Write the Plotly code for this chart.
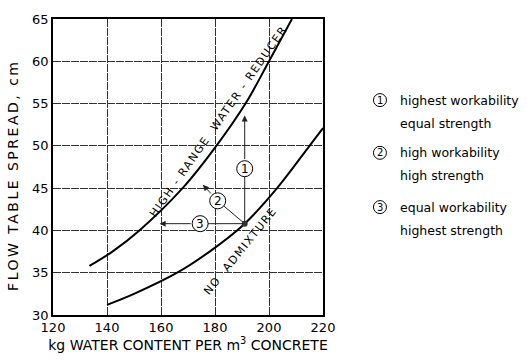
import plotly.graph_objects as go

# ---- data ----
hrwr_x = [133.5, 142, 152, 168, 180.5, 191.3, 200, 208.5]
hrwr_y = [35.8, 37.5, 40, 45, 50, 55, 60, 65]
noadm_x = [140, 150, 166, 178, 191, 203, 215, 220]
noadm_y = [31.2, 32.5, 35, 37.5, 40.8, 45, 50, 52.1]

origin = (191, 40.8)
circle_labels = ["1", "2", "3"]
circle_x = [191, 181, 174.5]
circle_y = [47.3, 43.5, 40.8]
head_x = [191, 175.5, 159.5]
head_y = [53.6, 45.4, 40.8]

legend_lines = [("highest workability", "equal strength"),
                ("high workability", "high strength"),
                ("equal workability", "highest strength")]

x_ticks = [120, 140, 160, 180, 200, 220]
y_ticks = [30, 35, 40, 45, 50, 55, 60, 65]

FONT = "DejaVu Sans, Liberation Sans, Arial"

fig = go.Figure()
for xs, ys in ((hrwr_x, hrwr_y), (noadm_x, noadm_y)):
    fig.add_trace(go.Scatter(x=xs, y=ys, mode="lines",
                             line=dict(color="black", width=2, shape="spline", smoothing=1),
                             showlegend=False, hoverinfo="skip"))
fig.add_trace(go.Scatter(x=[origin[0]], y=[origin[1]], mode="markers",
                         marker=dict(color="#333", size=6),
                         showlegend=False, hoverinfo="skip"))

annotations = []
shapes = []
R = 8
for lab, cx, cy, hx, hy in zip(circle_labels, circle_x, circle_y, head_x, head_y):
    annotations.append(dict(x=cx, y=cy, ax=origin[0], ay=origin[1], xref="x", yref="y",
                            axref="x", ayref="y", showarrow=True, arrowside="none",
                            arrowwidth=1, arrowcolor="#222", standoff=R, text=""))
    annotations.append(dict(x=hx, y=hy, ax=cx, ay=cy, xref="x", yref="y",
                            axref="x", ayref="y", showarrow=True, arrowhead=2,
                            arrowsize=1.2, arrowwidth=1, arrowcolor="#222",
                            startstandoff=R, text=""))
    shapes.append(dict(type="circle", xref="x", yref="y", xsizemode="pixel", ysizemode="pixel",
                       xanchor=cx, yanchor=cy, x0=-R, x1=R, y0=-R, y1=R,
                       fillcolor="white", line=dict(color="black", width=1)))
    annotations.append(dict(x=cx, y=cy, xref="x", yref="y", text=lab, showarrow=False,
                            xanchor="center", yanchor="middle",
                            font=dict(family=FONT, size=12, color="black")))

# curve labels
annotations.append(dict(x=181.3, y=52.9, xref="x", yref="y", showarrow=False, textangle=-55,
                        xanchor="center", yanchor="middle",
                        text='<span style="letter-spacing:1.5px">HIGH - RANGE  WATER - REDUCER</span>',
                        font=dict(family=FONT, size=11, color="black")))
annotations.append(dict(x=189.6, y=37.6, xref="x", yref="y", showarrow=False, textangle=-51,
                        xanchor="center", yanchor="middle",
                        text='<span style="letter-spacing:1.5px">NO  ADMIXTURE</span>',
                        font=dict(family=FONT, size=11, color="black")))

# y-axis title placed as annotation
annotations.append(dict(x=-0.148, y=0.47, xref="paper", yref="paper", showarrow=False,
                        textangle=-90, xanchor="center", yanchor="middle",
                        text='<span style="letter-spacing:2.5px">FLOW TABLE SPREAD, cm</span>',
                        font=dict(family=FONT, size=14, color="black")))

# side legend
leg_cx = 1.211
leg_tx = 1.278
leg_y1 = [0.726, 0.548, 0.3645]
leg_y2 = [0.6484, 0.471, 0.284]
for lab, (l1, l2), y1, y2 in zip(circle_labels, legend_lines, leg_y1, leg_y2):
    shapes.append(dict(type="circle", xref="paper", yref="paper", xsizemode="pixel",
                       ysizemode="pixel", xanchor=leg_cx, yanchor=y1, x0=-6.5, x1=6.5,
                       y0=-6.5, y1=6.5, line=dict(color="black", width=1)))
    annotations.append(dict(x=leg_cx, y=y1, xref="paper", yref="paper", text=lab,
                            showarrow=False, xanchor="center", yanchor="middle",
                            font=dict(family=FONT, size=10, color="black")))
    annotations.append(dict(x=leg_tx, y=y1, xref="paper", yref="paper", text=l1,
                            showarrow=False, xanchor="left", yanchor="middle",
                            font=dict(family=FONT, size=12.5, color="black")))
    annotations.append(dict(x=leg_tx, y=y2, xref="paper", yref="paper", text=l2,
                            showarrow=False, xanchor="left", yanchor="middle",
                            font=dict(family=FONT, size=12.5, color="black")))

axis_common = dict(showline=True, linecolor="black", linewidth=1.5, mirror=True,
                   showgrid=True, gridcolor="#333", gridwidth=1, griddash="8px,1px",
                   zeroline=False, ticks="", tickfont=dict(family=FONT, size=13, color="black"))

fig.update_layout(
    width=527, height=361,
    margin=dict(l=53, r=204, t=13, b=38),
    paper_bgcolor="white", plot_bgcolor="white",
    xaxis=dict(range=[120, 220], tickvals=x_ticks, **axis_common,
               title=dict(text="kg WATER CONTENT PER m<sup>3</sup> CONCRETE", standoff=4,
                          font=dict(family=FONT, size=14, color="black"))),
    yaxis=dict(range=[30, 65], tickvals=y_ticks, **axis_common),
    annotations=annotations, shapes=shapes,
)

fig.write_html("out.html")
